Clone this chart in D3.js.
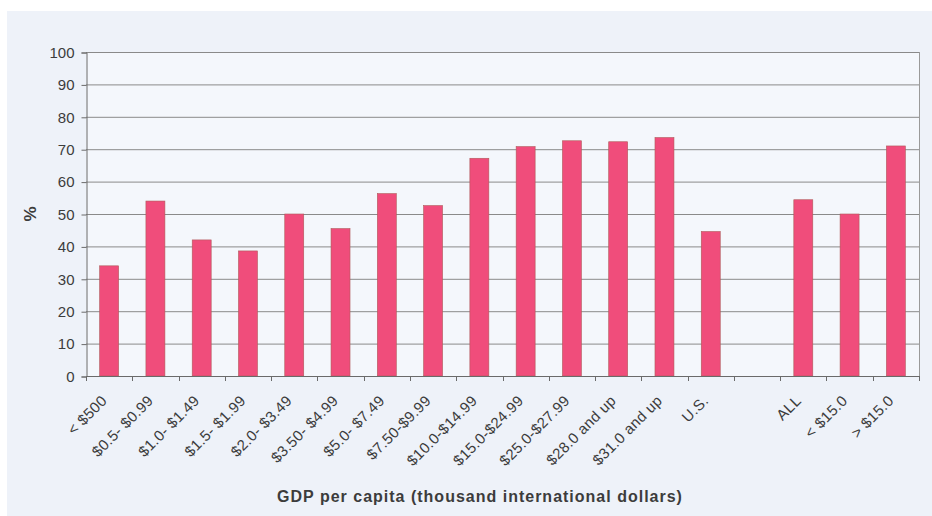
<!DOCTYPE html>
<html lang="en">
  <head>
    <meta charset="UTF-8" />
    <title>GDP per capita bar chart</title>
    <script src="https://cdnjs.cloudflare.com/ajax/libs/d3/7.8.5/d3.min.js"></script>
    <style>
      body { margin: 0; background: #fff; }
      text { font-family: "Liberation Sans", Arial, sans-serif; fill: #3c3c3c; }
    </style>
  </head>
  <body>
    <div id="chart"></div>

    <script type="text/javascript">
      var categories = ["< $500", "$0.5- $0.99", "$1.0- $1.49", "$1.5- $1.99", "$2.0- $3.49",
        "$3.50- $4.99", "$5.0- $7.49", "$7.50-$9.99", "$10.0-$14.99", "$15.0-$24.99",
        "$25.0-$27.99", "$28.0 and up", "$31.0 and up", "U.S.", "", "ALL", "< $15.0", "> $15.0"];
      var values = [34, 54, 42, 38.6, 50, 45.5, 56.3, 52.6, 67.2, 70.8,
        72.6, 72.3, 73.6, 44.6, null, 54.4, 50, 71];
      var yTicks = [0, 10, 20, 30, 40, 50, 60, 70, 80, 90, 100];

      var width = 932, height = 516;
      var margin = { top: 52, right: 13, bottom: 140, left: 86 };

      var svg = d3.select("#chart").append("svg")
        .attr("width", width).attr("height", height);

      /* scanned-page look: light blue panel */
      svg.append("rect").attr("x", 7).attr("y", 11)
        .attr("width", width - 7).attr("height", height - 11)
        .attr("fill", "#eef2f9");

      var x = d3.scaleBand()
        .domain(d3.range(categories.length))
        .range([margin.left, width - margin.right])
        .paddingInner(0.59).paddingOuter(0.295);

      var y = d3.scaleLinear().domain([0, 100])
        .range([height - margin.bottom, margin.top]);

      var g = svg.append("g");

      g.append("rect")
        .attr("x", margin.left).attr("y", margin.top)
        .attr("width", width - margin.right - margin.left)
        .attr("height", y(0) - margin.top)
        .attr("fill", "#f4f7fc");

      // gridlines
      g.selectAll("line.grid").data(yTicks).enter().append("line")
        .attr("class", "grid")
        .attr("x1", margin.left).attr("x2", width - margin.right)
        .attr("y1", function (d) { return y(d) + 0.5; })
        .attr("y2", function (d) { return y(d) + 0.5; })
        .attr("stroke", "#8a8a8a").attr("stroke-width", 1);

      // right border
      g.append("line")
        .attr("x1", width - margin.right + 0.5).attr("x2", width - margin.right + 0.5)
        .attr("y1", margin.top).attr("y2", y(0))
        .attr("stroke", "#9a9a9a");

      // bars
      g.selectAll("rect.bar")
        .data(values.map(function (v, i) { return { i: i, v: v }; })
          .filter(function (d) { return d.v != null; }))
        .enter().append("rect")
        .attr("class", "bar")
        .attr("x", function (d) { return x(d.i); })
        .attr("y", function (d) { return y(d.v); })
        .attr("width", x.bandwidth())
        .attr("height", function (d) { return y(0) - y(d.v); })
        .attr("fill", "#f04d7b")
        .attr("stroke", "#b05a5a").attr("stroke-width", 0.6);

      // y axis
      var yAxis = d3.axisLeft(y).tickValues(yTicks).tickSize(5).tickPadding(7);
      var ya = svg.append("g")
        .attr("transform", "translate(" + (margin.left + 0.5) + ",0.5)")
        .call(yAxis);
      ya.select(".domain").attr("stroke", "#6a6a6a");
      ya.selectAll(".tick line").attr("stroke", "#6a6a6a");
      ya.selectAll("text").style("font-size", "15px").attr("fill", "#3c3c3c");

      // x axis: ticks between categories
      var step = x.step();
      var bounds = d3.range(categories.length + 1).map(function (k) {
        return margin.left + k * step;
      });
      var xa = svg.append("g");
      xa.append("line")
        .attr("x1", margin.left).attr("x2", width - margin.right)
        .attr("y1", y(0) + 0.5).attr("y2", y(0) + 0.5)
        .attr("stroke", "#6a6a6a");
      xa.selectAll("line.tk").data(bounds).enter().append("line")
        .attr("class", "tk")
        .attr("x1", function (d) { return Math.round(d) + 0.5; })
        .attr("x2", function (d) { return Math.round(d) + 0.5; })
        .attr("y1", y(0)).attr("y2", y(0) + 5)
        .attr("stroke", "#6a6a6a");

      xa.selectAll("text.lbl").data(categories).enter().append("text")
        .attr("class", "lbl")
        .attr("transform", function (d, i) {
          return "translate(" + (x(i) + x.bandwidth() / 2 - 5) + "," + (y(0) + 22) + ") rotate(-45)";
        })
        .attr("text-anchor", "end")
        .attr("dy", "0.35em")
        .style("font-size", "15px").style("letter-spacing", "0.3px")
        .text(function (d) { return d; });

      // axis titles
      svg.append("text")
        .attr("transform", "translate(36," + y(50) + ") rotate(-90)")
        .attr("text-anchor", "middle")
        .style("font-size", "17px").style("font-weight", "bold")
        .text("%");

      svg.append("text")
        .attr("x", 480).attr("y", 502)
        .attr("text-anchor", "middle")
        .style("font-size", "16px").style("font-weight", "bold")
        .style("letter-spacing", "1px")
        .text("GDP per capita (thousand international dollars)");
    </script>
  </body>
</html>
